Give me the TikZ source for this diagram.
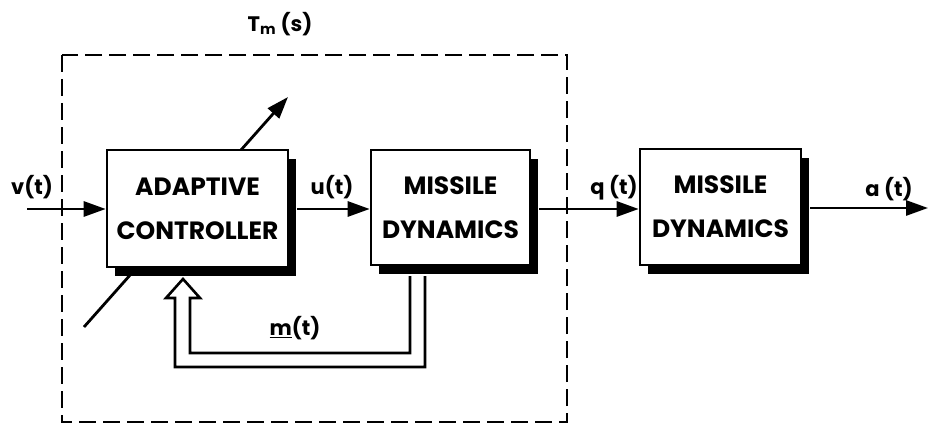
\documentclass[tikz,border=0pt]{standalone}
\usepackage{fontspec}
\setmainfont{Poppins}
\usetikzlibrary{arrows.meta,shadows,backgrounds}
\begin{document}
\begin{tikzpicture}[x=1pt,y=-1pt,
  blk/.style={draw, fill=white, line width=2.6pt, align=center,
    font=\bfseries\fontsize{25}{44}\selectfont,
    drop shadow={shadow xshift=8pt, shadow yshift=-9pt, opacity=1, fill=black}},
  sig/.style={line width=2.8pt, -{Triangle[length=22pt,width=15pt]}},
  lab/.style={font=\bfseries\fontsize{21}{24}\selectfont},
  fb/.style={line width=2.6pt, line join=miter},
  bound/.style={line width=2.6pt, dash pattern=on 17pt off 7pt}]
\useasboundingbox (0,0) rectangle (928,425);

\node[blk, minimum width=181pt, minimum height=117pt] (ac) at (197.5,208.5) {ADAPTIVE\\CONTROLLER};
\node[blk, minimum width=159pt, minimum height=115pt] (md1) at (450.5,207.5) {MISSILE\\DYNAMICS};
\node[blk, minimum width=161pt, minimum height=116pt] (md2) at (720.5,207) {MISSILE\\DYNAMICS};

% dashed system boundary
\draw[bound] (62,55) rectangle (567,422);
\node[lab] (tm) at (280,24) {T\textsubscript{m} (s)};

% adjustable-parameter arrow (behind controller box)
\coordinate (pin) at (84,327);
\coordinate (pout) at (288,97);
\begin{pgfonlayer}{background}
\draw[sig] (pin) -- (pout);
\end{pgfonlayer}

% signals
\coordinate (vin) at (27,209);
\coordinate (aout) at (928,208);
\draw[sig] (vin) -- (ac.west |- vin);
\draw[sig] (ac.east |- vin) ++(8,0) -- (md1.west |- vin);
\draw[sig] (md1.east |- vin) ++(8,0) -- (md2.west |- vin);
\draw[sig] (md2.east |- aout) ++(8,0) -- (aout);

\node[lab] (vl) at (32,187) {v(t)};
\node[lab] (ul) at (332,187) {u(t)};
\node[lab] (ql) at (614,188) {q (t)};
\node[lab] (al) at (889,189) {a (t)};

% vector feedback (double line, hollow head)
\draw[fb] (425,276) -- (425,367) -- (175,367) -- (175,298) -- (166,298)
  -- (183,279) -- (200,298) -- (190,298) -- (190,353) -- (410,353) -- (410,276);
\node[lab] (ml) at (295,328) {\underline{m}(t)};
\end{tikzpicture}
\end{document}
